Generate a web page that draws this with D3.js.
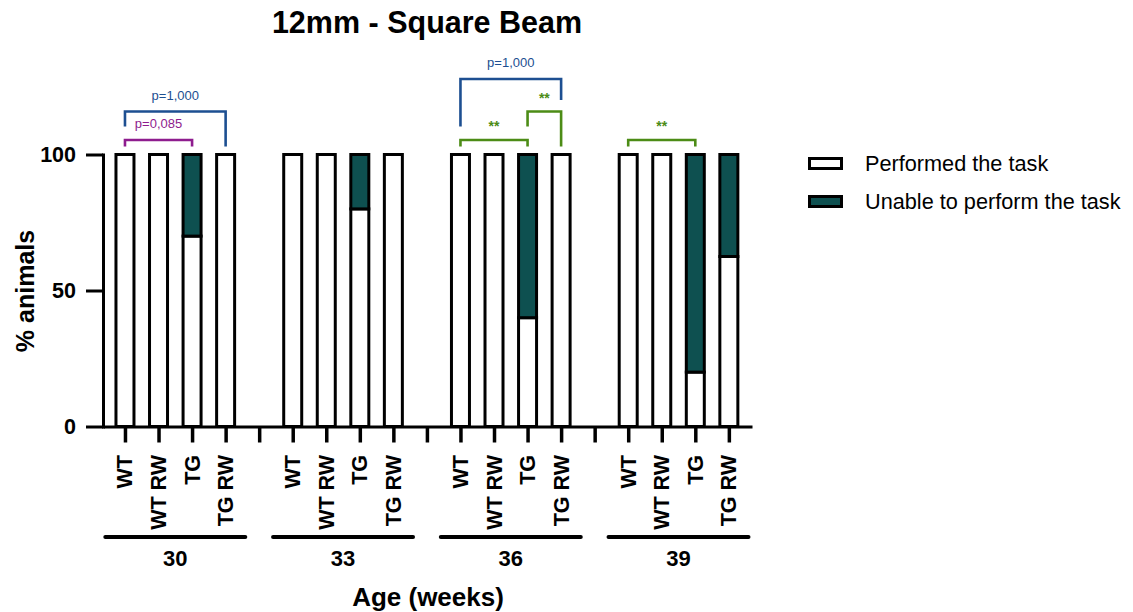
<!DOCTYPE html>
<html>
<head>
<meta charset="utf-8">
<script src="https://cdn.jsdelivr.net/npm/d3@7"></script>
<style>
  html, body { margin: 0; padding: 0; background: #fff; }
  svg { display: block; font-family: "Liberation Sans", Arial, Helvetica, sans-serif; }
</style>
</head>
<body>
<svg id="chart" width="1133" height="612"></svg>
<script>
// Square beam (12 mm) outcome per age group and genotype
const ages = ["30", "33", "36", "39"];
const genotypes = ["WT", "WT RW", "TG", "TG RW"];
// % animals that performed the task, per age (rows) and genotype (columns)
const performed = [
  [100, 100, 70, 100],
  [100, 100, 80, 100],
  [100, 100, 40, 100],
  [100, 100, 20, 62.5]
];
// % animals unable to perform the task
const unable = [
  [0, 0, 30, 0],
  [0, 0, 20, 0],
  [0, 0, 60, 0],
  [0, 0, 80, 37.5]
];
const yTicks = [0, 50, 100];
const seriesNames = ["Performed the task", "Unable to perform the task"];

// Pairwise comparisons: age index, genotype indices, text, tier, leg drop tiers
const comparisons = [
  { age: 0, a: 0, b: 2, text: "p=0,085", kind: "ns2", tier: 0, dropA: 0, dropB: 0 },
  { age: 0, a: 0, b: 3, text: "p=1,000", kind: "ns",  tier: 1, dropA: 1, dropB: 0 },
  { age: 2, a: 0, b: 2, text: "**",      kind: "sig", tier: 0, dropA: 0, dropB: 0 },
  { age: 2, a: 2, b: 3, text: "**",      kind: "sig", tier: 1, dropA: 1, dropB: 0 },
  { age: 2, a: 0, b: 3, text: "p=1,000", kind: "ns",  tier: 2, dropA: 1, dropB: 2 },
  { age: 3, a: 0, b: 2, text: "**",      kind: "sig", tier: 0, dropA: 0, dropB: 0 }
];

const teal = "#0e5050";
const kindColor = { ns: "#1d4f91", ns2: "#8e1c8e", sig: "#4c8c16" };

const svg = d3.select("#chart");

// slot layout: 4 bars per age, one empty slot between ages
const slot = (g, k) => g * 5 + k;
const x = d3.scaleLinear().domain([-0.655, 18.69]).range([103, 752]);
const y = d3.scaleLinear().domain([0, 100]).range([426.5, 154.5]);
const barW = 18;

// title
svg.append("text")
  .attr("x", 427).attr("y", 33)
  .attr("text-anchor", "middle")
  .attr("font-size", 30.5).attr("font-weight", "bold")
  .text("12mm - Square Beam");

// bars
const bars = [];
ages.forEach((age, g) => {
  genotypes.forEach((gt, k) => {
    bars.push({ g, k, p: performed[g][k], u: unable[g][k] });
  });
});
const barG = svg.append("g");
bars.forEach(d => {
  const cx = x(slot(d.g, d.k));
  // performed (white, bottom)
  if (d.p > 0) {
    barG.append("rect")
      .attr("x", cx - barW / 2).attr("width", barW)
      .attr("y", y(d.p)).attr("height", y(0) - y(d.p))
      .attr("fill", "#fff").attr("stroke", "#000").attr("stroke-width", 3);
  }
  // unable (teal, on top)
  if (d.u > 0) {
    barG.append("rect")
      .attr("x", cx - barW / 2).attr("width", barW)
      .attr("y", y(d.p + d.u)).attr("height", y(d.p) - y(d.p + d.u))
      .attr("fill", teal).attr("stroke", "#000").attr("stroke-width", 3);
  }
});

// y axis
const yAxis = svg.append("g")
  .attr("transform", `translate(${x.range()[0]},0)`)
  .call(d3.axisLeft(y).tickValues(yTicks).tickSize(17).tickSizeOuter(0).tickPadding(10));
yAxis.select(".domain").attr("stroke-width", 3).attr("stroke-linecap", "square");
yAxis.selectAll(".tick line").attr("stroke-width", 3);
yAxis.selectAll(".tick text")
  .attr("font-size", 21.5).attr("font-weight", "bold").attr("fill", "#000")
  .attr("font-family", "Liberation Sans, Arial, sans-serif");

svg.append("text")
  .attr("transform", "translate(34,291) rotate(-90)")
  .attr("text-anchor", "middle")
  .attr("font-size", 25).attr("font-weight", "bold")
  .text("% animals");

// x axis (one tick per slot, including gaps between ages)
const xAxis = svg.append("g")
  .attr("transform", `translate(0,${y(0)})`)
  .call(d3.axisBottom(x).tickValues(d3.range(0, 19)).tickSize(16).tickSizeOuter(0).tickFormat(""));
xAxis.select(".domain").attr("stroke-width", 3);
xAxis.selectAll(".tick line").attr("stroke-width", 3.5);

// genotype labels
ages.forEach((age, g) => {
  genotypes.forEach((gt, k) => {
    const cx = x(slot(g, k));
    svg.append("text")
      .attr("transform", `translate(${cx + 7.5},455) rotate(-90)`)
      .attr("text-anchor", "end")
      .attr("font-size", 21.5).attr("font-weight", "bold")
      .text(gt);
  });
  // age group bar and label
  const gc = (x(slot(g, 0)) + x(slot(g, 3))) / 2;
  svg.append("line")
    .attr("x1", gc - 70).attr("x2", gc + 70)
    .attr("y1", 537).attr("y2", 537)
    .attr("stroke", "#000").attr("stroke-width", 4).attr("stroke-linecap", "round");
  svg.append("text")
    .attr("x", gc).attr("y", 566)
    .attr("text-anchor", "middle")
    .attr("font-size", 22).attr("font-weight", "bold")
    .text(age);
});

svg.append("text")
  .attr("x", 428).attr("y", 606)
  .attr("text-anchor", "middle")
  .attr("font-size", 26).attr("font-weight", "bold")
  .text("Age (weeks)");

// comparison brackets
const tierTop = [140, 111.5, 79];
const dropEnd = [146.5, 126.5, 100];
const annG = svg.append("g");
comparisons.forEach(c => {
  const xa = x(slot(c.age, c.a));
  const xb = x(slot(c.age, c.b));
  const top = tierTop[c.tier];
  const col = kindColor[c.kind];
  annG.append("path")
    .attr("d", `M${xa},${dropEnd[c.dropA]}V${top}H${xb}V${dropEnd[c.dropB]}`)
    .attr("fill", "none").attr("stroke", col).attr("stroke-width", 2.6);
  const isStar = c.text.startsWith("*");
  annG.append("text")
    .attr("x", (xa + xb) / 2)
    .attr("y", isStar ? top - 9 : top - 12)
    .attr("text-anchor", "middle")
    .attr("font-size", isStar ? 14 : 13)
    .attr("font-weight", isStar ? "bold" : "normal")
    .attr("fill", col)
    .text(c.text);
});

// legend
const legend = svg.append("g");
seriesNames.forEach((name, i) => {
  const ly = 158.5 + i * 38;
  legend.append("rect")
    .attr("x", 809.5).attr("y", ly).attr("width", 32).attr("height", 10)
    .attr("fill", i === 0 ? "#fff" : teal)
    .attr("stroke", "#000").attr("stroke-width", 3);
  legend.append("text")
    .attr("x", 865).attr("y", ly + 12.5)
    .attr("font-size", 21.7)
    .text(name);
});
</script>
</body>
</html>
